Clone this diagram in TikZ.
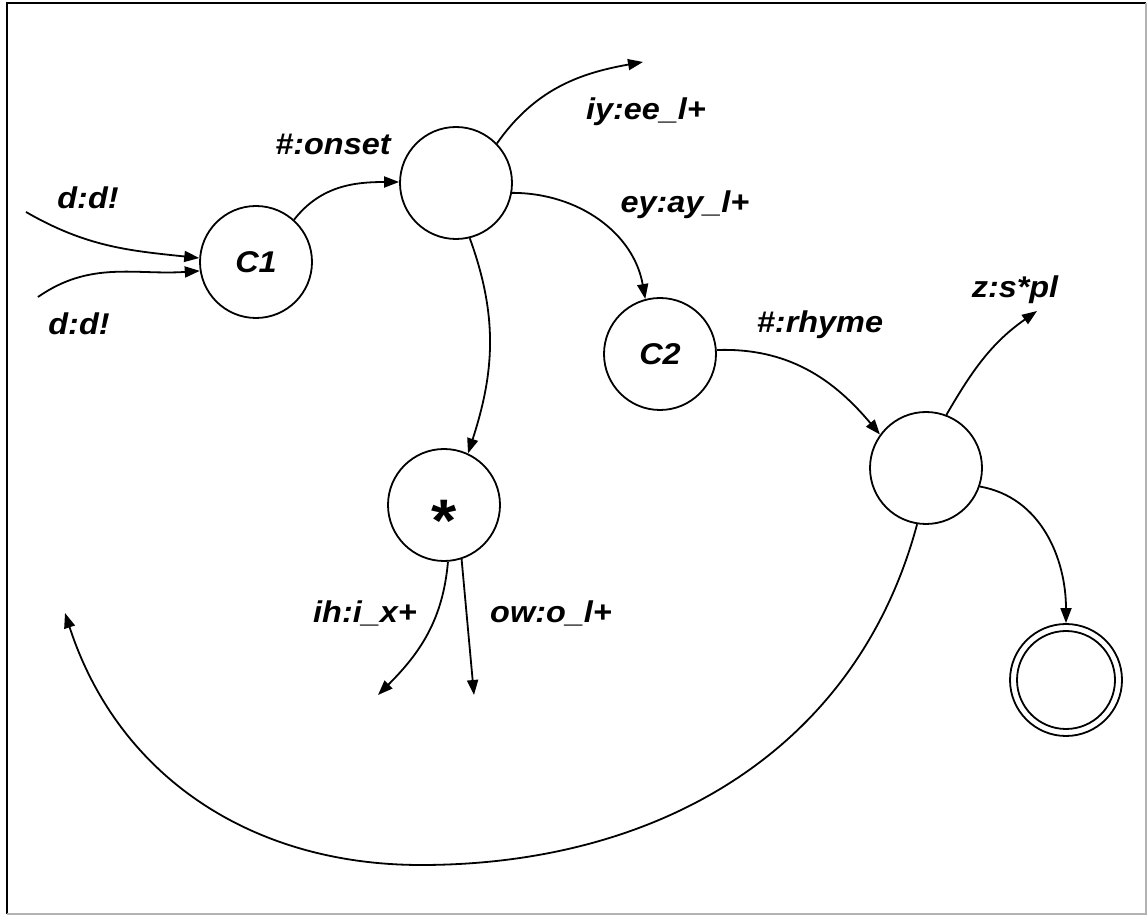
\documentclass[tikz,border=0pt]{standalone}
\usepackage{fontspec}
\newfontfamily\labfont{Liberation Sans}[FakeStretch=1.08]
\usetikzlibrary{arrows.meta}
\begin{document}
\begin{tikzpicture}[x=1pt,y=1pt,
  state/.style={circle, draw, line width=1.8pt, minimum size=112pt, inner sep=0pt,
    font=\labfont\bfseries\itshape\fontsize{30}{36}\selectfont},
  lab/.style={font=\labfont\bfseries\itshape\fontsize{30}{36}\selectfont, anchor=base, inner sep=0pt},
  edge/.style={line width=1.8pt, -{Triangle[length=15pt,width=11pt]}},
  plain/.style={line width=1.8pt}]
\useasboundingbox (0,0) rectangle (1148,915);
\draw[line width=1.5pt] (7,1) -- (7,912) -- (1146,912);
\draw[line width=1.5pt, gray!60] (1146,912) -- (1146,1) -- (7,1);

% states
\node[state] (C1) at (256,653) {C1};
\node[state] (A) at (456,732) {};
\node[state] (C2) at (660,561) {C2};
\node[state, font=\labfont\bfseries\fontsize{60}{60}\selectfont] (S) at (444,410) {\smash{\raisebox{-37pt}{*}}};
\node[state] (R) at (926,447) {};
\node[state] (F) at (1066,235) {};
\draw[plain] (F.center) circle[radius=49pt];

% free ends
\coordinate (s1) at (26,703);
\coordinate (s2) at (38,618);
\coordinate (iy) at (643,853);
\coordinate (z) at (1037,604);
\coordinate (ih) at (378,220);
\coordinate (ow) at (474,220);
\coordinate (lb) at (421,50);
\coordinate (lt) at (65,302);

% edges
\draw[edge] (s1) to[out=-30,in=174] (C1.176);
\draw[edge] (s2) to[out=35,in=184] (C1.189);
\draw[edge] (C1.48) to[out=52,in=180] (A.179);
\draw[edge] (A.44) to[out=55,in=190] (iy);
\draw[edge] (A.350) to[out=0,in=100] (C2.105);
\draw[edge] (A.284) to[out=-70,in=72] (S.65);
\draw[edge] (C2.4) to[out=2,in=130] (R.144);
\draw[edge] (R.69) to[out=60,in=215] (z);
\draw[edge] (R.341) to[out=-10,in=90] (F.north);
\draw[edge] (R.261) to[out=-105,in=0] (lb) to[out=180,in=-72] (lt);
\draw[edge] (S.274) to[out=-95,in=45] (ih);
\draw[edge] (S.288) -- (ow);

% labels
\node[lab] (l1) at (88,706) {d:d!};
\node[lab] (l2) at (79,580) {d:d!};
\node[lab] (l3) at (333,760) {\#:onset};
\node[lab] (l4) at (646,795) {iy:ee\_l+};
\node[lab] (l5) at (685,702) {ey:ay\_l+};
\node[lab] (l6) at (820,582) {\#:rhyme};
\node[lab] (l7) at (1015,617) {z:s*pl};
\node[lab] (l8) at (365,292) {ih:i\_x+};
\node[lab] (l9) at (551,292) {ow:o\_l+};
\end{tikzpicture}
\end{document}
